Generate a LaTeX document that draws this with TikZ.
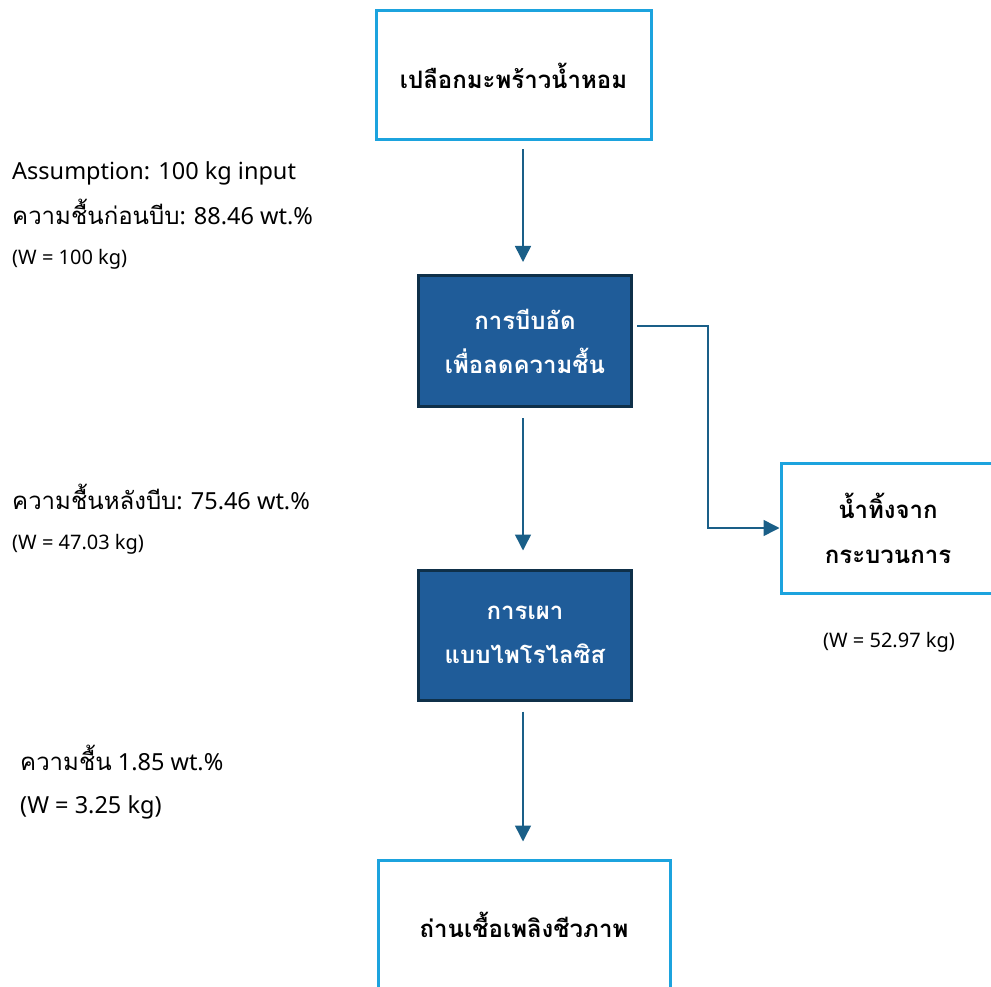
\documentclass[tikz,border=0pt]{standalone}
\usepackage{fontspec}
\setmainfont[Script=Thai]{Loma}
\newfontfamily\lat{Noto Sans}
\usetikzlibrary{arrows.meta}
\definecolor{lightb}{HTML}{1CA3DE}
\definecolor{darkfill}{HTML}{1F5C99}
\definecolor{darkline}{HTML}{0F3049}
\definecolor{arrc}{HTML}{1A5F88}
\newcommand{\latbig}{\lat\fontsize{23.5}{26}\selectfont}
\tikzset{
  lightbox/.style={draw=lightb, line width=3pt, fill=white, align=center, inner sep=0pt, font=\fontsize{24}{45}\selectfont\bfseries},
  darkbox/.style={draw=darkline, line width=3pt, fill=darkfill, text=white, align=center, inner sep=0pt, font=\fontsize{24}{44}\selectfont\bfseries},
  flow/.style={draw=arrc, line width=1.5pt, -{Triangle[width=16pt,length=16pt]}},
  biglabel/.style={anchor=base west, inner sep=0pt, font=\fontsize{24}{26}\selectfont},
  smalllabel/.style={anchor=base west, inner sep=0pt, font=\lat\fontsize{20}{22}\selectfont},
}
\begin{document}
\begin{tikzpicture}[x=1pt, y=-1pt]
\useasboundingbox (0,0) rectangle (991,987);
\clip (0,0) rectangle (991,987);
% boxes
\node[lightbox, minimum width=275pt, minimum height=129pt] (b1) at (513.5,75.5) {เปลือกมะพร้าวน้ำหอม};
\node[darkbox, minimum width=213pt, minimum height=131pt] (b2) at (525,341) {การบีบอัด\\เพื่อลดความชื้น};
\node[darkbox, minimum width=213pt, minimum height=130pt] (b3) at (525,635) {การเผา\\แบบไพโรไลซิส};
\node[lightbox, minimum width=292pt, minimum height=130pt] (b4) at (524,925) {ถ่านเชื้อเพลิงชีวภาพ};
\node[lightbox, minimum width=214pt, minimum height=130pt] (b5) at (888,528) {น้ำทิ้งจาก\\กระบวนการ};
% connectors
\draw[flow, shorten <=8pt, shorten >=12pt] ([xshift=-2pt]b2.north |- b1.south) -- ([xshift=-2pt]b2.north);
\draw[flow, shorten <=10pt, shorten >=18pt] ([xshift=-2pt]b2.south) -- ([xshift=-2pt]b3.north);
\draw[flow, shorten <=10pt, shorten >=17pt] ([xshift=-2pt]b3.south) -- ([xshift=-1pt]b4.north);
\coordinate (e1) at (708,326);
\draw[flow, shorten <=4pt] ([yshift=15pt]b2.east) -- (e1) |- (b5.west);
% labels
\node[biglabel] (t1) at (12,180) {\latbig Assumption: 100 kg input};
\node[biglabel] (t2) at (12,225) {ความชื้นก่อนบีบ{\latbig : 88.46 wt.\%}};
\node[smalllabel] (t3) at (12,265) {(W = 100 kg)};
\node[biglabel] (t4) at (12,509) {ความชื้นหลังบีบ{\latbig : 75.46 wt.\%}};
\node[smalllabel] (t5) at (12,549) {(W = 47.03 kg)};
\node[biglabel] (t6) at (20,770) {ความชื้น{\latbig{} 1.85 wt.\%}};
\node[biglabel] (t7) at (20,813) {\latbig (W = 3.25 kg)};
\node[smalllabel, anchor=base] (t8) at (889,647) {(W = 52.97 kg)};
\end{tikzpicture}
\end{document}
